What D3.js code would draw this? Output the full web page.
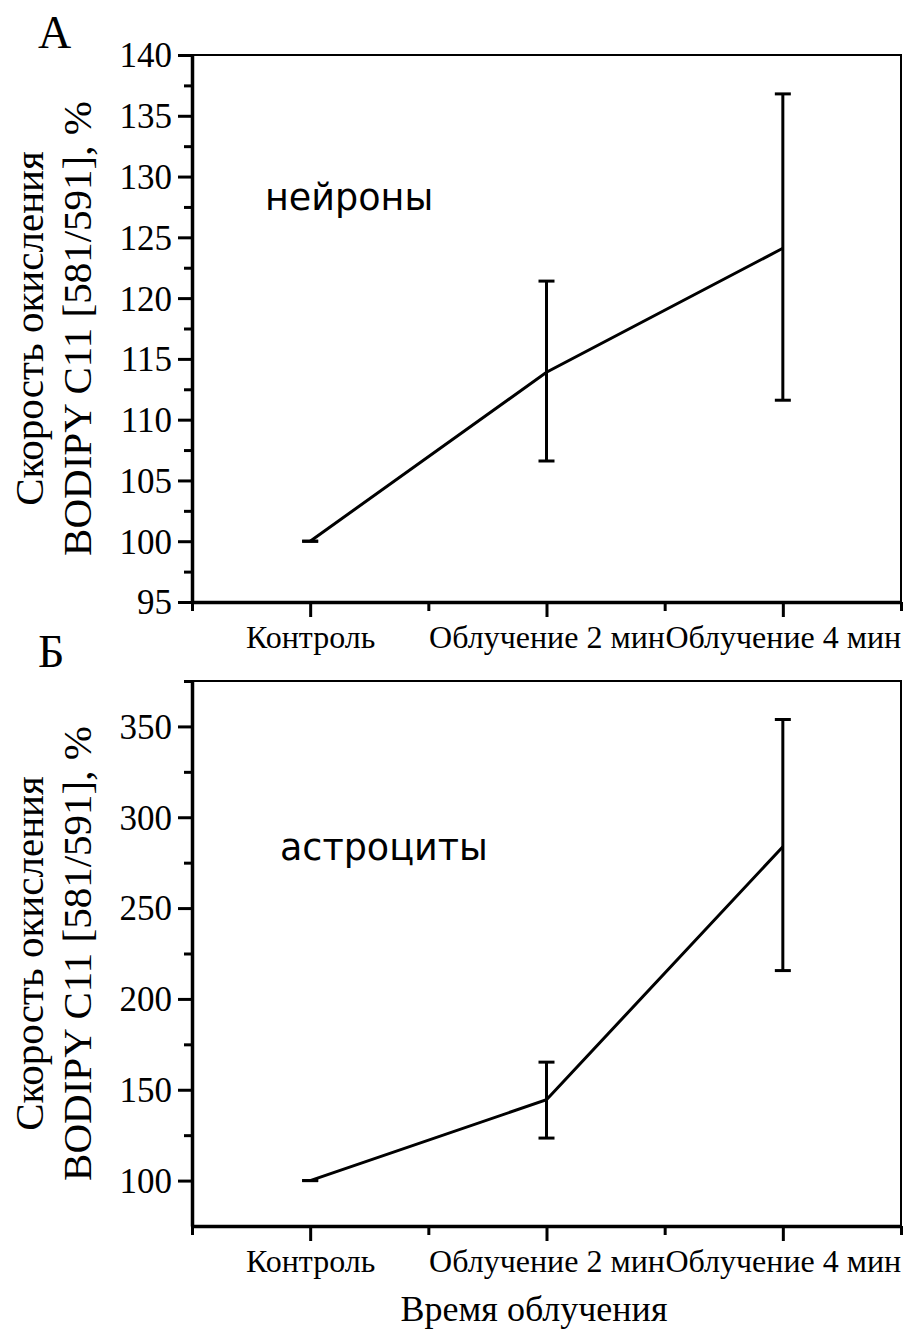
<!DOCTYPE html>
<html>
<head>
<meta charset="utf-8">
<script src="https://cdn.jsdelivr.net/npm/d3@7"></script>
<style>
  body { margin: 0; background: #fff; }
  svg { display: block; }
  .tick text { font-family: "Liberation Serif", "Times New Roman", serif; fill: #000; }
</style>
</head>
<body>
<svg id="svg" width="906" height="1329"></svg>
<script>
// Data
const categories = ['Контроль', 'Облучение 2 мин', 'Облучение 4 мин'];

const neuronMean = [100, 113.9, 124.1];
const neuronUpper = [100, 121.4, 136.8];
const neuronLower = [100, 106.6, 111.6];

const astroMean = [100, 144.5, 283.8];
const astroUpper = [100, 165.2, 353.8];
const astroLower = [100, 123.4, 215.6];

const neuronTicks = [95, 100, 105, 110, 115, 120, 125, 130, 135, 140];
const astroTicks = [100, 150, 200, 250, 300, 350];

const yTitle1 = 'Скорость окисления';
const yTitle2 = 'BODIPY C11 [581/591], %';
const xTitle = 'Время облучения';

const svg = d3.select('#svg');

const left = 192;
const right = 901;

const x = d3.scaleLinear().domain([-0.5, 2.5]).range([left, right]);

function drawPanel(opts) {
  const { top, bottom, domain, ticks, minor, mean, upper, lower, letter, letterY, cellLabel, cellX, cellY } = opts;
  const y = d3.scaleLinear().domain(domain).range([bottom, top]);
  const g = svg.append('g');

  // top and right frame (thin)
  g.append('path')
    .attr('d', `M${left},${top}H${right}V${bottom}`)
    .attr('fill', 'none')
    .attr('stroke', '#000')
    .attr('stroke-width', 2);

  // minor y ticks
  g.append('g')
    .attr('transform', `translate(${left},0)`)
    .call(d3.axisLeft(y).tickValues(minor).tickSize(8).tickSizeOuter(0).tickFormat(''))
    .call((s) => s.select('.domain').remove())
    .selectAll('line').attr('stroke-width', 3);

  // major y axis
  const ya = g.append('g')
    .attr('transform', `translate(${left},0)`)
    .call(d3.axisLeft(y).tickValues(ticks).tickSize(14).tickSizeOuter(0).tickPadding(6));
  ya.select('.domain').attr('stroke-width', 3.5);
  ya.selectAll('line').attr('stroke-width', 3);
  ya.selectAll('text').attr('font-size', 35).attr('dy', '0.34em');

  // minor x ticks
  g.append('g')
    .attr('transform', `translate(0,${bottom})`)
    .call(d3.axisBottom(x).tickValues([-0.5, 0.5, 1.5, 2.5]).tickSize(9).tickSizeOuter(0).tickFormat(''))
    .call((s) => s.select('.domain').remove())
    .selectAll('line').attr('stroke-width', 3);

  // major x axis
  const xa = g.append('g')
    .attr('transform', `translate(0,${bottom})`)
    .call(d3.axisBottom(x).tickValues([0, 1, 2]).tickSize(15).tickSizeOuter(0).tickPadding(8)
      .tickFormat((d) => categories[d]));
  xa.select('.domain').attr('stroke-width', 3.5);
  xa.selectAll('line').attr('stroke-width', 3);
  xa.selectAll('text').attr('font-size', 32);

  // line
  const line = d3.line().x((d, i) => x(i)).y((d) => y(d));
  g.append('path')
    .datum(mean)
    .attr('d', line)
    .attr('fill', 'none')
    .attr('stroke', '#000')
    .attr('stroke-width', 3);

  // error bars
  const eb = g.append('g').attr('stroke', '#000').attr('stroke-width', 3);
  mean.forEach((m, i) => {
    eb.append('line').attr('x1', x(i)).attr('x2', x(i)).attr('y1', y(upper[i])).attr('y2', y(lower[i]));
    eb.append('line').attr('x1', x(i) - 8).attr('x2', x(i) + 8).attr('y1', y(upper[i])).attr('y2', y(upper[i]));
    eb.append('line').attr('x1', x(i) - 8).attr('x2', x(i) + 8).attr('y1', y(lower[i])).attr('y2', y(lower[i]));
  });

  // y title
  const cy = (top + bottom) / 2;
  g.append('text')
    .attr('transform', `translate(43,${cy}) rotate(-90)`)
    .attr('text-anchor', 'middle')
    .attr('font-family', 'Liberation Serif, serif')
    .attr('font-size', 41)
    .text(yTitle1);
  g.append('text')
    .attr('transform', `translate(91,${cy}) rotate(-90)`)
    .attr('text-anchor', 'middle')
    .attr('font-family', 'Liberation Serif, serif')
    .attr('font-size', 41)
    .text(yTitle2);

  // panel letter
  g.append('text')
    .attr('x', 38)
    .attr('y', letterY)
    .attr('font-family', 'Liberation Serif, serif')
    .attr('font-size', 46)
    .text(letter);

  // cell type label
  g.append('text')
    .attr('x', cellX)
    .attr('y', cellY)
    .attr('font-family', 'DejaVu Sans, sans-serif')
    .attr('font-size', 36.5)
    .text(cellLabel);
}

drawPanel({
  top: 55, bottom: 602, domain: [95, 140],
  ticks: neuronTicks,
  minor: [97.5, 102.5, 107.5, 112.5, 117.5, 122.5, 127.5, 132.5, 137.5],
  mean: neuronMean, upper: neuronUpper, lower: neuronLower,
  letter: 'А', letterY: 48,
  cellLabel: 'нейроны', cellX: 265, cellY: 210,
});

drawPanel({
  top: 681, bottom: 1226, domain: [75, 375],
  ticks: astroTicks,
  minor: [125, 175, 225, 275, 325, 375],
  mean: astroMean, upper: astroUpper, lower: astroLower,
  letter: 'Б', letterY: 667,
  cellLabel: 'астроциты', cellX: 280, cellY: 860,
});

svg.append('text')
  .attr('x', 534)
  .attr('y', 1321)
  .attr('text-anchor', 'middle')
  .attr('font-family', 'Liberation Serif, serif')
  .attr('font-size', 36)
  .text(xTitle);
</script>
</body>
</html>
